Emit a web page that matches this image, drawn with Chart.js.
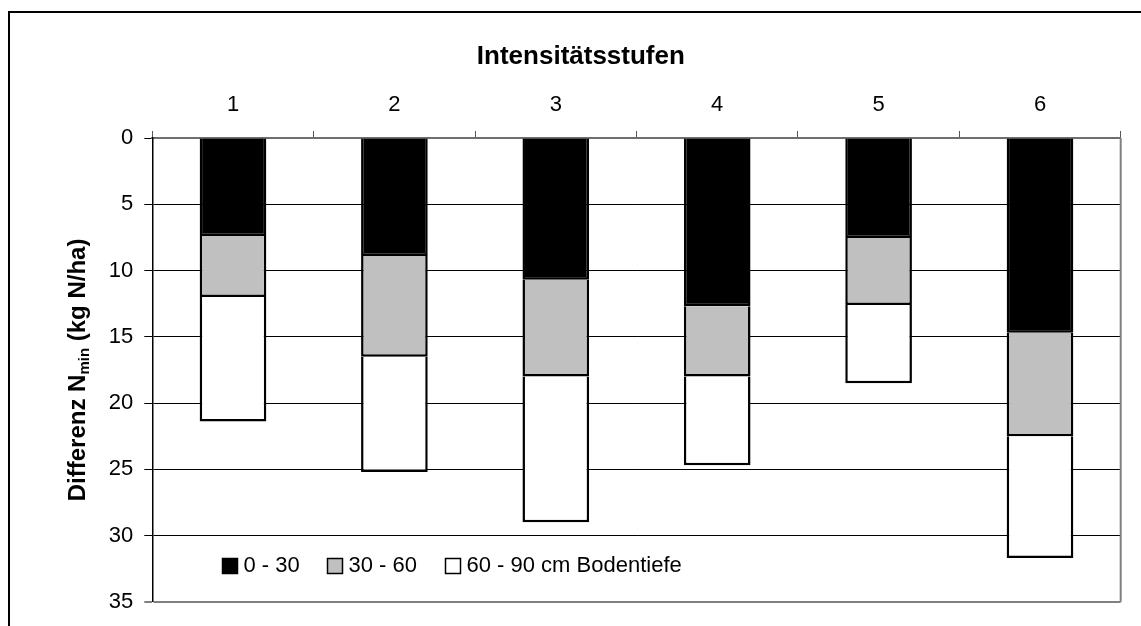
<!DOCTYPE html>
<html>
<head>
<meta charset="utf-8">
<script src="https://cdn.jsdelivr.net/npm/chart.js@4/dist/chart.umd.min.js"></script>
<style>
  html, body { margin: 0; padding: 0; background: #fff; }
  #wrap { width: 1141px; height: 626px; }
</style>
</head>
<body>
<div id="wrap"><canvas id="c" width="1141" height="626"></canvas></div>
<script>
// Intensity levels and the Nmin difference per soil depth layer (kg N/ha)
const categories = ['1', '2', '3', '4', '5', '6'];
const seriesLabels = ['0 - 30', '30 - 60', '60 - 90 cm Bodentiefe'];
const depth0to30 = [7.4, 8.9, 10.7, 12.7, 7.55, 14.7];
const depth30to60 = [4.6, 7.6, 7.3, 5.3, 5.05, 7.8];
const depth60to90 = [9.4, 8.7, 11.0, 6.7, 5.9, 9.2];
const yTicks = [0, 5, 10, 15, 20, 25, 30, 35];
const chartTitle = 'Intensitätsstufen';
const yTitleParts = ['Differenz N', 'min', ' (kg N/ha)'];

const FONT = '"Liberation Sans", Arial, Helvetica, sans-serif';

// white background and the outer frame
const framePlugin = {
  id: 'frame',
  beforeDraw(chart) {
    const ctx = chart.ctx;
    ctx.save();
    ctx.fillStyle = '#fff';
    ctx.fillRect(0, 0, chart.width, chart.height);
    ctx.strokeStyle = '#000';
    ctx.lineWidth = 2;
    ctx.beginPath();
    ctx.moveTo(9, chart.height + 2);
    ctx.lineTo(9, 12);
    ctx.lineTo(chart.width + 2, 12);
    ctx.stroke();
    ctx.restore();
  }
};

// grey right edge of the plot area
const plotEdgePlugin = {
  id: 'plotEdge',
  afterDatasetsDraw(chart) {
    const { ctx, chartArea: a } = chart;
    ctx.save();
    ctx.strokeStyle = '#808080';
    ctx.lineWidth = 2;
    ctx.beginPath();
    ctx.moveTo(a.right, a.top);
    ctx.lineTo(a.right, a.bottom);
    ctx.stroke();
    ctx.restore();
  }
};

// vertical axis title with subscript "min"
const yTitlePlugin = {
  id: 'yTitle',
  afterDraw(chart) {
    const { ctx, chartArea: a } = chart;
    const big = 'bold 24px ' + FONT;
    const small = 'bold 15px ' + FONT;
    ctx.save();
    ctx.font = big;
    const w0 = ctx.measureText(yTitleParts[0]).width;
    const w2 = ctx.measureText(yTitleParts[2]).width;
    ctx.font = small;
    const w1 = ctx.measureText(yTitleParts[1]).width;
    const total = w0 + w1 + w2;
    ctx.translate(85, (a.top + a.bottom) / 2);
    ctx.rotate(-Math.PI / 2);
    ctx.fillStyle = '#000';
    ctx.textBaseline = 'alphabetic';
    ctx.textAlign = 'left';
    let x = -total / 2;
    ctx.font = big;
    ctx.fillText(yTitleParts[0], x, 0);
    x += w0;
    ctx.font = small;
    ctx.fillText(yTitleParts[1], x, 4);
    x += w1;
    ctx.font = big;
    ctx.fillText(yTitleParts[2], x, 0);
    ctx.restore();
  }
};

// legend drawn inside the plot, along its lower edge
const innerLegendPlugin = {
  id: 'innerLegend',
  afterDraw(chart) {
    const { ctx, chartArea: a } = chart;
    const offsets = [70, 175, 293];
    const cy = a.bottom - 37;
    ctx.save();
    ctx.font = '22px ' + FONT;
    ctx.textBaseline = 'middle';
    ctx.textAlign = 'left';
    chart.data.datasets.forEach((ds, i) => {
      const bx = Math.round(a.left + offsets[i]) + 0.5;
      const by = Math.round(cy - 7) + 0.5;
      ctx.fillStyle = ds.backgroundColor;
      ctx.fillRect(bx, by, 15, 15);
      ctx.strokeStyle = '#000';
      ctx.lineWidth = 1.5;
      ctx.strokeRect(bx, by, 15, 15);
      ctx.fillStyle = '#000';
      ctx.fillText(ds.label, bx + 21, cy + 1);
    });
    ctx.restore();
  }
};

const barStyle = {
  borderColor: '#000',
  borderWidth: 2.5,
  barPercentage: 0.413,
  categoryPercentage: 1.0
};

new Chart(document.getElementById('c'), {
  type: 'bar',
  data: {
    labels: categories,
    datasets: [
      Object.assign({ label: seriesLabels[0], data: depth0to30, backgroundColor: '#000000' }, barStyle),
      Object.assign({ label: seriesLabels[1], data: depth30to60, backgroundColor: '#C0C0C0' }, barStyle),
      Object.assign({ label: seriesLabels[2], data: depth60to90, backgroundColor: '#FFFFFF' }, barStyle)
    ]
  },
  options: {
    responsive: false,
    animation: false,
    devicePixelRatio: 1,
    layout: { padding: { left: 41, right: 20.3, top: 0, bottom: 24 } },
    plugins: {
      legend: { display: false },
      tooltip: { enabled: false },
      title: {
        display: true,
        text: chartTitle,
        color: '#000',
        font: { family: FONT, size: 26, weight: 'bold' },
        padding: { top: 41, bottom: 8 }
      }
    },
    scales: {
      x: {
        position: 'top',
        stacked: true,
        offset: true,
        grid: {
          display: true,
          offset: true,
          drawOnChartArea: false,
          drawTicks: true,
          tickLength: 7,
          tickColor: '#555',
          tickWidth: 1
        },
        border: { display: true, color: '#6e6e6e', width: 2 },
        ticks: { color: '#000', font: { family: FONT, size: 22 }, padding: 13, maxRotation: 0 },
        afterFit(s) { s.height = 57.8; }
      },
      y: {
        stacked: true,
        reverse: true,
        min: 0,
        max: 35,
        afterBuildTicks(s) { s.ticks = yTicks.map(v => ({ value: v })); },
        ticks: { color: '#000', font: { family: FONT, size: 22 }, padding: 11 },
        grid: {
          color: c => (c.tick && (c.tick.value === 35 || c.tick.value === 0)) ? '#808080' : '#000',
          lineWidth: c => (c.tick && c.tick.value === 35) ? 2 : 1,
          drawTicks: true,
          tickLength: 8,
          tickColor: '#000',
          tickWidth: 1
        },
        border: { display: true, color: '#000', width: 1.5 },
        afterFit(s) { s.width = 111.3; }
      }
    }
  },
  plugins: [framePlugin, plotEdgePlugin, yTitlePlugin, innerLegendPlugin]
});
</script>
</body>
</html>
